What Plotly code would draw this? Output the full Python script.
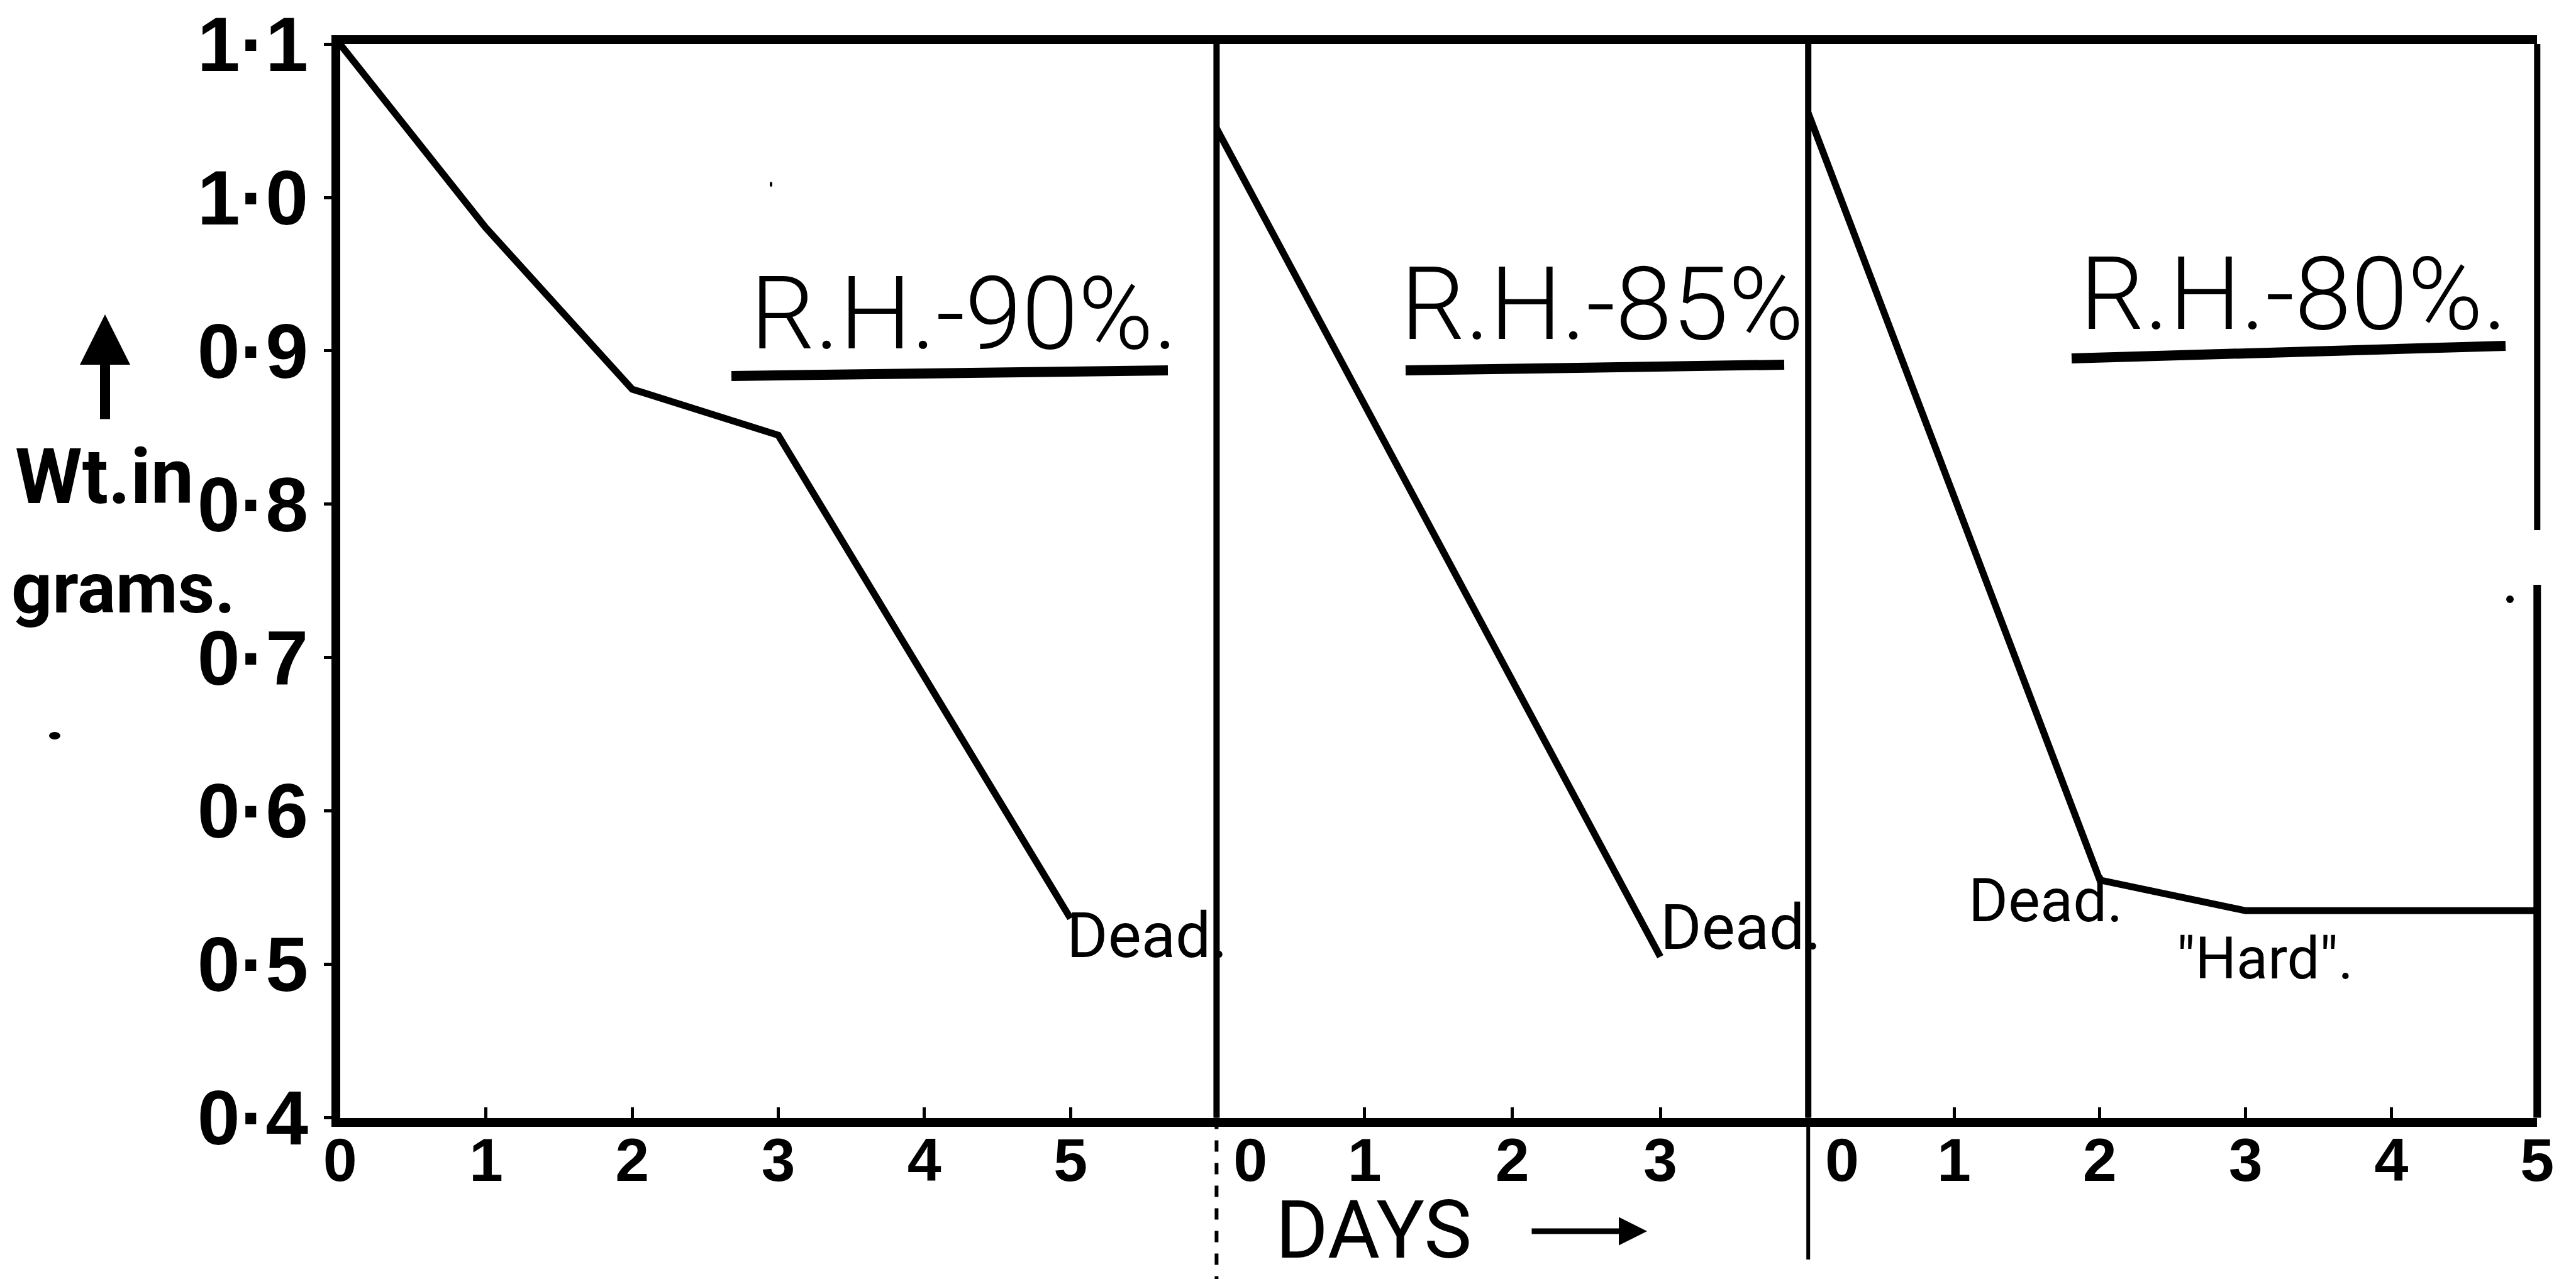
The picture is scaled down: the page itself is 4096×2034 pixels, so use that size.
import plotly.graph_objects as go

# Weight of specimens (grams) against days at three relative humidities
days_90 = [0, 1, 2, 3, 5]
wt_90 = [1.10, 0.98, 0.875, 0.845, 0.53]
days_85 = [0, 3]
wt_85 = [1.045, 0.505]
days_80 = [0, 2, 3, 5]
wt_80 = [1.055, 0.555, 0.535, 0.535]

rh_labels = ["R.H.-90%.", "R.H.-85%", "R.H.-80%."]
day_spans = [6, 4, 5]
day_ticks = [[0, 1, 2, 3, 4, 5], [0, 1, 2, 3], [0, 1, 2, 3, 4, 5]]
wt_ticks = [0.4, 0.5, 0.6, 0.7, 0.8, 0.9, 1.0, 1.1]
wt_tick_text = ["0·4", "0·5", "0·6", "0·7", "0·8", "0·9", "1·0", "1·1"]
end_notes = ["Dead.", "Dead.", "Dead.", '"Hard".']
y_title = ["Wt.in", "grams."]
x_title = "DAYS"

# ---- canvas geometry (pixels) ----
W, H = 4096, 2034
X_EDGES = [540.6, 1934.4, 2875.2, 4034.3]   # left axis, two dividers, right border
Y_TOP, Y_BOT = 70.1, 1777.6


def px(x):
    return x / W


def py(y):
    return 1 - y / H


ROUND = "Roboto, Liberation Sans, Arial, sans-serif"
SANS = "Liberation Sans, Arial, sans-serif"
INK = "black"

fig = go.Figure()
series = [(days_90, wt_90, "x"), (days_85, wt_85, "x2"), (days_80, wt_80, "x3")]
for d, w, xa in series:
    fig.add_trace(go.Scatter(
        x=d, y=w, xaxis=xa, yaxis="y", mode="lines",
        line=dict(color=INK, width=11), hoverinfo="skip", showlegend=False))

nbsp = "\u00a0"


def day_text(ticks, shift_zero):
    out = []
    for t in ticks:
        s = str(t)
        if t == 0 and shift_zero:
            s = nbsp * 4 + s
        out.append(s)
    return out


xaxis_common = dict(
    anchor="y", showgrid=False, zeroline=False, showline=True, linewidth=14,
    linecolor=INK, mirror=True, ticks="inside", ticklen=17, tickwidth=5,
    tickcolor=INK, tickfont=dict(family=SANS, size=97, color=INK, weight="bold"),
    ticklabelstandoff=-30, fixedrange=True, automargin=False,
)
layout_axes = {}
for i, key in enumerate(["xaxis", "xaxis2", "xaxis3"]):
    ax = dict(xaxis_common)
    ax.update(
        domain=[px(X_EDGES[i]), px(X_EDGES[i + 1])],
        range=[0, day_spans[i]],
        tickvals=day_ticks[i],
        ticktext=day_text(day_ticks[i], i > 0),
    )
    layout_axes[key] = ax

layout_axes["yaxis"] = dict(
    anchor="x", domain=[py(Y_BOT), py(Y_TOP)], range=[0.4, 1.1],
    showgrid=False, zeroline=False, showline=True, linewidth=14, linecolor=INK,
    ticks="outside", ticklen=12, tickwidth=5, tickcolor=INK,
    tickvals=wt_ticks, ticktext=wt_tick_text,
    tickfont=dict(family=SANS, size=122, color=INK, weight="bold"),
    ticklabelstandoff=0, fixedrange=True, automargin=False,
)

shapes = []


def seg(x0, y0, x1, y1, width, dash="solid"):
    shapes.append(dict(type="line", xref="paper", yref="paper",
                       x0=px(x0), y0=py(y0), x1=px(x1), y1=py(y1),
                       line=dict(color=INK, width=width, dash=dash)))


# panel dividers and right border
seg(X_EDGES[1], Y_TOP, X_EDGES[1], Y_BOT, 10)
seg(X_EDGES[1], Y_BOT, X_EDGES[1], H, 6, "dash")
seg(X_EDGES[2], Y_TOP, X_EDGES[2], Y_BOT, 10)
seg(X_EDGES[2], Y_BOT, X_EDGES[2], 2003, 6)
seg(X_EDGES[3], Y_TOP, X_EDGES[3], 843, 10)
seg(X_EDGES[3], 930, X_EDGES[3], Y_BOT, 12)

# underlines beneath the humidity labels
seg(1163, 598, 1857, 589, 16)
seg(2235, 589, 2837, 580, 16)
seg(3294, 570, 3984, 550, 16)

# stray ink dots
for cx, cy, rx, ry in [(87, 1170, 9, 6), (3991, 953, 6, 6), (1226, 293, 2, 4)]:
    shapes.append(dict(type="circle", xref="paper", yref="paper",
                       x0=px(cx - rx), x1=px(cx + rx), y0=py(cy + ry), y1=py(cy - ry),
                       fillcolor=INK, line=dict(width=0)))

annotations = []


def label(text, x, y, size, family=ROUND, weight="normal", box_height=None):
    ann = dict(text=text, x=px(x), y=py(y), xref="paper", yref="paper",
               showarrow=False, xanchor="center", yanchor="middle",
               font=dict(family=family, size=size, color=INK, weight=weight))
    if box_height is not None:
        ann.update(height=box_height, valign="middle")
    annotations.append(ann)


for text, (x, y) in zip(rh_labels, [(1533, 499), (2547, 484), (3647, 468)]):
    label(text, x, y, 162, ROUND, 300)

for text, (x, y, s) in zip(end_notes, [(1824, 1487, 100), (2768, 1474, 100),
                                       (3253, 1432, 96), (3601, 1524, 92)]):
    label(text, x, y, s)

label(x_title, 2184, 1956, 128, ROUND, box_height=100)
label(y_title[0], 166, 758, 122, ROUND, "bold")
label(y_title[1], 196, 935, 114, ROUND, "bold")

# arrows next to the axis titles
annotations.append(dict(text="", x=px(2619), y=py(1958), xref="paper", yref="paper",
                        showarrow=True, ax=-185, ay=0, arrowhead=2, arrowsize=1,
                        arrowwidth=9, arrowcolor=INK))
annotations.append(dict(text="", x=px(167), y=py(500), xref="paper", yref="paper",
                        showarrow=True, ax=0, ay=168, arrowhead=2, arrowsize=1,
                        arrowwidth=16, arrowcolor=INK))

fig.update_layout(
    width=W, height=H, autosize=False,
    margin=dict(l=0, r=0, t=0, b=0, autoexpand=False),
    paper_bgcolor="white", plot_bgcolor="white",
    shapes=shapes, annotations=annotations, showlegend=False,
    **layout_axes,
)

fig.write_html("out.html")
